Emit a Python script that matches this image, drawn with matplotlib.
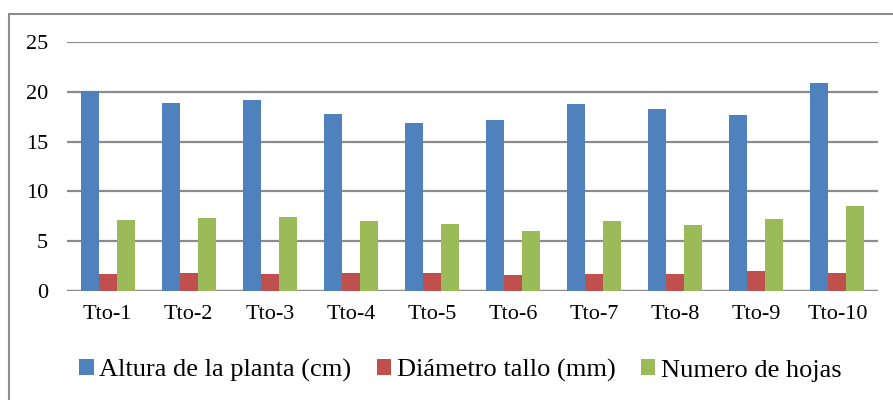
import numpy as np
import matplotlib.pyplot as plt
from matplotlib.patches import Rectangle, Patch

plt.rcParams['font.family'] = ['Liberation Serif', 'DejaVu Serif']

tratamientos = ["Tto-1", "Tto-2", "Tto-3", "Tto-4", "Tto-5",
                "Tto-6", "Tto-7", "Tto-8", "Tto-9", "Tto-10"]
altura = [20.1, 18.9, 19.2, 17.8, 16.9, 17.2, 18.8, 18.3, 17.7, 20.9]
diametro = [1.75, 1.8, 1.7, 1.85, 1.8, 1.6, 1.75, 1.75, 2.0, 1.8]
hojas = [7.1, 7.3, 7.4, 7.0, 6.7, 6.0, 7.0, 6.6, 7.2, 8.5]

series = [
    ("Altura de la planta (cm)", altura, "#4F81BD"),
    ("Diámetro tallo (mm)", diametro, "#C0504D"),
    ("Numero de hojas", hojas, "#9BBB59"),
]

fig = plt.figure(figsize=(8.93, 4.0), dpi=100)
ax = fig.add_axes([67 / 893, 109 / 400, 811 / 893, 249 / 400])

x = np.arange(len(tratamientos))
w = 0.222
for i, (name, vals, col) in enumerate(series):
    ax.bar(x + (i - 1) * w, vals, width=w, color=col, zorder=3)

ax.set_xlim(-0.5, len(tratamientos) - 0.5)
ax.set_ylim(0, 25)
ax.set_yticks([0, 5, 10, 15, 20, 25])
ax.set_xticks(x)
ax.set_xticklabels(tratamientos)
ax.grid(axis="y", color="#8c8c8c", linewidth=1.6, zorder=0)
for s in ax.spines.values():
    s.set_visible(False)
ax.axhline(0, color="#8c8c8c", linewidth=1.6, zorder=2)
ax.tick_params(axis="both", length=0, labelsize=16)
ax.tick_params(axis="y", pad=13.5)
ax.tick_params(axis="x", pad=10)

handles = [Patch(facecolor=c, label=n) for n, _, c in series]
fig.legend(handles=handles, loc="center", bbox_to_anchor=(0.5155, 0.074),
           ncol=3, frameon=False, fontsize=19, handlelength=0.55,
           handleheight=0.55, handletextpad=0.22, columnspacing=0.95)

# gray chart border (only top and left edges fall inside the image)
fig.patches.append(Rectangle((9 / 893, -0.1), 1.2, (400 - 14) / 400 + 0.1,
                             transform=fig.transFigure, fill=False,
                             edgecolor="#8c8c8c", linewidth=1.5))

fig.savefig("out.png", dpi=100)
